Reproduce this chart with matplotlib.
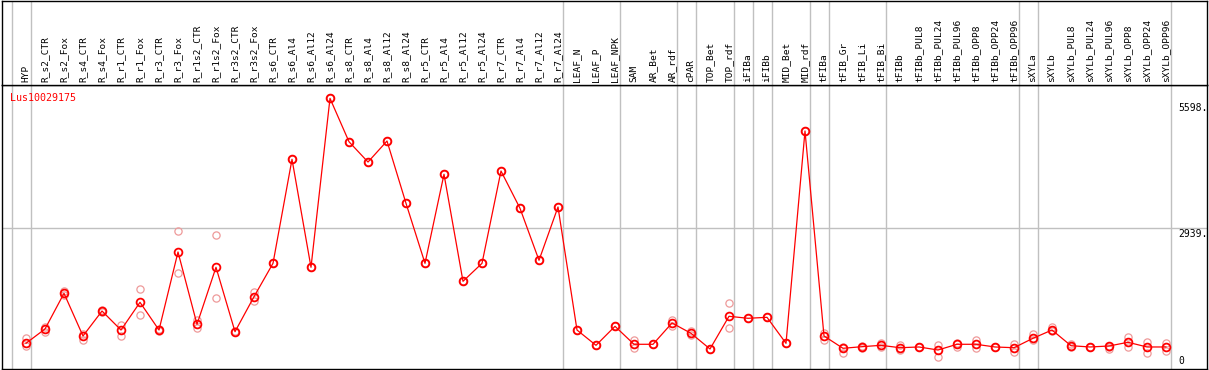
import matplotlib
matplotlib.use("Agg")
import matplotlib.pyplot as plt
import numpy as np

gene_id = "Lus10029175"

samples = ["HYP", "R_s2_CTR", "R_s2_Fox", "R_s4_CTR", "R_s4_Fox", "R_r1_CTR", "R_r1_Fox",
           "R_r3_CTR", "R_r3_Fox", "R_r1s2_CTR", "R_r1s2_Fox", "R_r3s2_CTR", "R_r3s2_Fox",
           "R_s6_CTR", "R_s6_Al4", "R_s6_Al12", "R_s6_Al24", "R_s8_CTR", "R_s8_Al4",
           "R_s8_Al12", "R_s8_Al24", "R_r5_CTR", "R_r5_Al4", "R_r5_Al12", "R_r5_Al24",
           "R_r7_CTR", "R_r7_Al4", "R_r7_Al12", "R_r7_Al24", "LEAF_N", "LEAF_P", "LEAF_NPK",
           "SAM", "AR_Bet", "AR_rdf", "cPAR", "TOP_Bet", "TOP_rdf", "iFIBa", "iFIBb",
           "MID_Bet", "MID_rdf", "tFIBa", "tFIB_Gr", "tFIB_Li", "tFIB_Bi", "tFIBb",
           "tFIBb_PUL8", "tFIBb_PUL24", "tFIBb_PUL96", "tFIBb_OPP8", "tFIBb_OPP24",
           "tFIBb_OPP96", "sXYLa", "sXYLb", "sXYLb_PUL8", "sXYLb_PUL24", "sXYLb_PUL96",
           "sXYLb_OPP8", "sXYLb_OPP24", "sXYLb_OPP96"]

mean_expr = [585, 878, 1608, 735, 1246, 857, 1424, 857, 2454, 974, 2141, 823, 1539,
             2222, 4351, 2141, 5598, 4710, 4295, 4725, 3450, 2222, 4044, 1854, 2222,
             4111, 3348, 2284, 3375, 857, 544, 933,
             565, 565, 1001, 790, 469, 1138, 1097, 1117, 585, 4930,
             735, 483, 516, 544, 495, 510, 448, 565, 565, 510, 495,
             688, 857, 536, 510, 530, 606, 510, 510]

rep_low = [530, 823, 1574, 653, 1226, 735, 1158, 843, 2030, 892, 1506, 810, 1457,
           2222, 4351, 2141, 5598, 4710, 4295, 4725, 3450, 2222, 4044, 1854, 2222,
           4111, 3348, 2284, 3375, 857, 544, 933,
           483, 565, 939, 755, 469, 892, 1097, 1117, 585, 4930,
           653, 381, 495, 516, 448, 510, 311, 516, 483, 505, 413,
           653, 843, 516, 510, 462, 516, 393, 434]

rep_high = [700, 925, 1656, 776, 1267, 960, 1690, 872, 2877, 1062, 2795, 843, 1641,
            2222, 4351, 2141, 5598, 4710, 4295, 4725, 3450, 2222, 4044, 1854, 2222,
            4111, 3348, 2284, 3375, 857, 544, 933,
            653, 565, 1062, 843, 469, 1404, 1097, 1117, 585, 4930,
            790, 516, 520, 585, 550, 510, 550, 585, 653, 515, 565,
            776, 913, 565, 510, 516, 720, 618, 585]

group_sizes = [1, 28, 3, 3, 1, 2, 1, 1, 2, 1, 3, 7, 1, 7]

axis_labels = ["5598.", "2939.", "0"]
axis_values = [5598, 2939, 0]
grid_value = 2939

W, H = 1209, 370
fig = plt.figure(figsize=(W / 100, H / 100), dpi=100)
fig.patch.set_facecolor("white")

x = np.arange(len(samples))
xlim = ((2 - 26) / 19, (1207 - 26) / 19)
ylim = (59.3, 5871.3)

# main axes
ax = fig.add_axes([2 / W, 1 / H, 1205 / W, 284 / H])
ax.set_xlim(*xlim)
ax.set_ylim(*ylim)
ax.set_xticks([])
ax.set_yticks([])
for s in ax.spines.values():
    s.set_color("black")
    s.set_linewidth(1.0)

# header axes
hx = fig.add_axes([2 / W, 285 / H, 1205 / W, 84.5 / H])
hx.set_xlim(*xlim)
hx.set_ylim(0, 1)
hx.set_xticks([])
hx.set_yticks([])
for s in hx.spines.values():
    s.set_color("black")
    s.set_linewidth(1.0)

gray = "#c0c0c0"
bounds = np.concatenate([[0], np.cumsum(group_sizes)]) - 1 + 0.24
for b in bounds:
    ax.axvline(b, color=gray, lw=1.0, zorder=1)
    hx.axvline(b, color=gray, lw=1.0, zorder=1)
ax.axhline(grid_value, color=gray, lw=1.0, zorder=1)

mono = "DejaVu Sans Mono"
for i, name in enumerate(samples):
    hx.text(i, 0.03, name, rotation=90, ha="center", va="bottom",
            fontsize=6.8, family=mono, color="black")

# replicates
rep_col = "#ee9a9a"
ax.plot(x, rep_low, ls="none", marker="o", ms=5.2, mfc="none", mec=rep_col, mew=0.9, zorder=2)
ax.plot(x, rep_high, ls="none", marker="o", ms=5.2, mfc="none", mec=rep_col, mew=0.9, zorder=2)
# mean line
ax.plot(x, mean_expr, color="#ff0000", lw=0.9, zorder=3)
ax.plot(x, mean_expr, ls="none", marker="o", ms=5.6, mfc="none", mec="#ff0000", mew=1.3, zorder=4)

ax.text(8 / 1205, 1 - 8 / 284, gene_id, transform=ax.transAxes, ha="left", va="top",
        fontsize=7.2, family=mono, color="#ff0000")

lx = (1178 - 26) / 19
offsets = [-3.6, -0.7]
for lab, val, off in zip(axis_labels[:2], axis_values[:2], offsets):
    ax.annotate(lab, xy=(lx, val), xytext=(0, off), textcoords="offset points",
                ha="left", va="top", fontsize=7.0, family=mono, color="black")
ax.annotate(axis_labels[2], xy=(lx, ylim[0]), xytext=(0, 2.2), textcoords="offset points",
            ha="left", va="bottom", fontsize=7.0, family=mono, color="black")

fig.savefig("out.png", dpi=100, facecolor="white")
